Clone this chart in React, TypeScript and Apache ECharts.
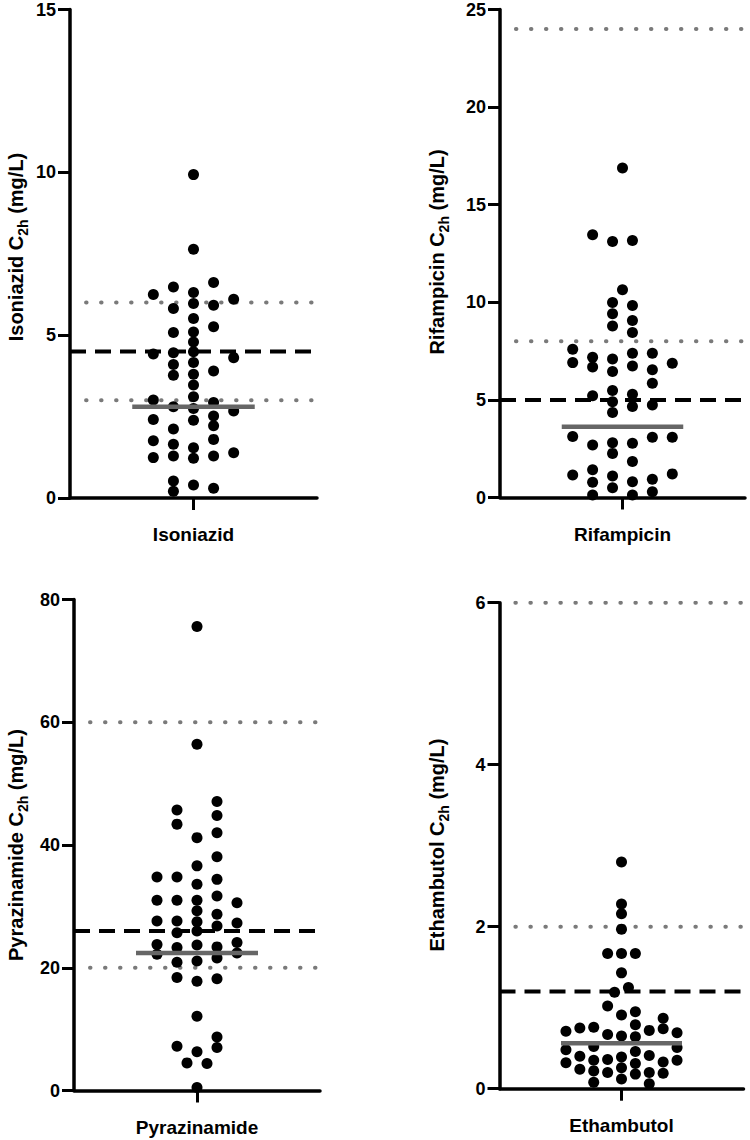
import React, { useEffect, useRef } from "react";
import * as echarts from "echarts";

const FONT = "'Liberation Sans', Arial, sans-serif";

const drugs = ["Isoniazid", "Rifampicin", "Pyrazinamide", "Ethambutol"];
const yMax = [15, 25, 80, 6];
const yStep = [5, 5, 20, 2];
const dashedRef = [4.5, 5, 26, 1.2];
const dottedRefs = [[3, 6], [8, 24], [20, 60], [2, 6]];
const medians = [2.8, 3.63, 22.4, 0.56];

// values (mg/L) and horizontal swarm offsets (in ~dot-radius units)
const isoniazidValues = [9.93, 7.64, 6.62, 6.48, 6.25, 6.31, 6.1, 5.97, 5.82, 5.92, 5.51, 5.26, 5.08, 5.1, 4.79, 4.49, 4.46, 4.42, 4.31, 4.16, 4.1, 3.9, 3.77, 3.8, 3.47, 3.11, 3.01, 2.93, 2.8, 2.75, 2.67, 2.52, 2.41, 2.39, 2.22, 2.12, 1.76, 1.8, 1.65, 1.54, 1.39, 1.24, 1.29, 1.22, 1.29, 0.52, 0.4, 0.3, 0.21];
const isoniazidOffsets = [0, 0, 2, -2, -4, 0, 4, 0, -2, 2, 0, 2, -2, 0, 0, 0, -2, -4, 4, 0, -2, 2, -2, 0, 0, 0, -4, 2, -2, 0, 4, 2, -4, 0, 2, -2, -4, 2, -2, 0, 4, -4, -2, 0, 2, -2, 0, 2, -2];

const rifampicinValues = [16.88, 13.46, 13.12, 13.17, 10.64, 9.99, 9.84, 9.41, 9.07, 8.79, 8.45, 7.6, 7.19, 7.1, 7.39, 7.39, 6.91, 6.88, 6.68, 6.74, 6.45, 6.54, 5.85, 5.48, 5.29, 5.21, 4.91, 4.66, 4.74, 4.35, 3.12, 3.09, 3.09, 2.69, 2.81, 2.78, 2.26, 1.84, 1.42, 1.15, 1.1, 1.21, 0.93, 0.78, 0.81, 0.5, 0.3, 0.13, 0.13];
const rifampicinOffsets = [0, -3, -1, 1, 0, -1, 1, -1, 1, -1, 1, -5, -3, -1, 1, 3, -5, 5, -3, 1, -1, 3, 3, -1, 1, -3, -1, 1, 3, -1, -5, 3, 5, -3, -1, 1, -1, 1, -3, -5, -1, 5, 3, -3, 1, -1, 3, -3, 1];

const pyrazinamideValues = [75.6, 56.4, 47.1, 45.7, 44.8, 43.4, 42.0, 41.2, 38.1, 36.6, 34.8, 34.8, 34.4, 33.6, 31.7, 31.0, 31.0, 31.0, 30.6, 29.3, 28.7, 27.6, 27.6, 27.5, 27.3, 26.8, 25.7, 26.0, 23.8, 23.7, 23.4, 24.1, 23.3, 22.2, 22.4, 21.6, 20.9, 21.1, 18.4, 18.2, 17.8, 12.1, 8.7, 7.2, 7.0, 6.3, 4.5, 4.4, 0.5];
const pyrazinamideOffsets = [0, 0, 2, -2, 2, -2, 2, 0, 2, 0, -4, -2, 2, 0, 2, -4, -2, 0, 4, 0, 2, -4, -2, 0, 4, 2, -2, 0, -4, 0, 2, 4, -2, -4, 4, 2, -2, 0, -2, 2, 0, 0, 2, -2, 2, 0, -1, 1, 0];

const ethambutolValues = [2.8, 2.28, 2.16, 1.97, 1.67, 1.67, 1.67, 1.43, 1.25, 1.19, 1.02, 0.91, 0.95, 0.87, 0.75, 0.76, 0.79, 0.71, 0.72, 0.74, 0.69, 0.67, 0.65, 0.64, 0.48, 0.52, 0.46, 0.51, 0.4, 0.36, 0.39, 0.41, 0.35, 0.32, 0.35, 0.31, 0.33, 0.24, 0.26, 0.22, 0.2, 0.18, 0.2, 0.19, 0.08, 0.12, 0.06];
const ethambutolOffsets = [0, 0, 0, 0, -1.4, 0, 1.4, 0, 0.7, -0.7, -1.4, 0, 1.4, 4.2, -4.2, -2.8, 1.4, -5.6, 2.8, 4.2, 5.6, -1.4, 0, 1.4, -5.6, -2.8, 1.4, 5.6, -4.2, -1.4, 0, 2.8, 5.6, -5.6, -2.8, 1.4, 4.2, -4.2, 0, -2.8, -1.4, 1.4, 2.8, 4.2, -2.8, 0, 2.8];

const allValues = [isoniazidValues, rifampicinValues, pyrazinamideValues, ethambutolValues];
const allOffsets = [isoniazidOffsets, rifampicinOffsets, pyrazinamideOffsets, ethambutolOffsets];

const grids = [
  { left: 70, top: 9.5, width: 247, height: 488.5 },
  { left: 500, top: 9.5, width: 245, height: 488 },
  { left: 74, top: 599.5, width: 246, height: 491 },
  { left: 499.5, top: 602.7, width: 244, height: 486 },
];
const nameCenters = [
  [16, 247],
  [437, 252],
  [16, 845],
  [437, 845],
];

const X_HALF = 12.3;

export default function App() {
  const ref = useRef<HTMLDivElement>(null);
  useEffect(() => {
    if (!ref.current) return;
    const chart = echarts.init(ref.current, undefined, { renderer: "svg" });

    const xAxis: any[] = [];
    const yAxis: any[] = [];
    const series: any[] = [];
    const graphic: any[] = [];

    drugs.forEach((d, i) => {
      xAxis[i] = {
        type: "category",
        gridIndex: i,
        data: [d],
        boundaryGap: true,
        axisLine: { show: true, onZero: false, lineStyle: { color: "#000", width: 3.5 } },
        axisTick: { show: true, alignWithLabel: true, length: 12, lineStyle: { color: "#000", width: 3 } },
        axisLabel: { color: "#000", fontSize: 19, fontWeight: "bold", fontFamily: FONT, margin: 27 },
        splitLine: { show: false },
        z: 5,
      };
      xAxis[4 + i] = {
        type: "value",
        gridIndex: i,
        min: -X_HALF,
        max: X_HALF,
        show: false,
        axisLine: { onZero: false },
        splitLine: { show: false },
      };
      yAxis[i] = {
        type: "value",
        gridIndex: i,
        position: "left",
        min: 0,
        max: yMax[i],
        interval: yStep[i],
        axisLine: { show: true, onZero: false, lineStyle: { color: "#000", width: 3.5 } },
        axisTick: { show: true, length: 12, lineStyle: { color: "#000", width: 3 } },
        axisLabel: { color: "#000", fontSize: 18, fontWeight: "bold", fontFamily: FONT, margin: 14 },
        splitLine: { show: false },
        z: 5,
      };

      dottedRefs[i].forEach((v) => {
        series.push({
          type: "line",
          xAxisIndex: 4 + i,
          yAxisIndex: i,
          data: [[-10.7, v], [12.1, v]],
          symbol: "none",
          silent: true,
          z: 1,
          lineStyle: { color: "#7a7a7a", width: 4, type: [0.5, 14.5], cap: "round" },
        });
      });
      series.push({
        type: "line",
        xAxisIndex: 4 + i,
        yAxisIndex: i,
        data: [[-X_HALF, dashedRef[i]], [X_HALF, dashedRef[i]]],
        symbol: "none",
        silent: true,
        z: 1,
        lineStyle: { color: "#000", width: 4, type: [16, 9] },
      });
      series.push({
        type: "scatter",
        xAxisIndex: 4 + i,
        yAxisIndex: i,
        data: allValues[i].map((v, k) => [allOffsets[i][k], v]),
        symbol: "circle",
        symbolSize: 11,
        itemStyle: { color: "#000", opacity: 1 },
        z: 2,
      });
      series.push({
        type: "line",
        xAxisIndex: 4 + i,
        yAxisIndex: i,
        data: [[-6.1, medians[i]], [6.1, medians[i]]],
        symbol: "none",
        silent: true,
        z: 3,
        lineStyle: { color: "#666", width: 4.5 },
      });

      graphic.push({
        type: "text",
        x: nameCenters[i][0],
        y: nameCenters[i][1],
        rotation: Math.PI / 2,
        style: {
          text: "{b|" + d + " C}{s|2h}{b| (mg/L)}",
          align: "center",
          verticalAlign: "middle",
          rich: {
            b: { fontSize: 20, fontWeight: "bold", fontFamily: FONT, fill: "#000", lineHeight: 28 },
            s: { fontSize: 14, fontWeight: "bold", fontFamily: FONT, fill: "#000", lineHeight: 18, verticalAlign: "bottom" },
          },
        },
      });
    });

    chart.setOption({
      animation: false,
      backgroundColor: "#fff",
      grid: grids.map((g) => ({ ...g, containLabel: false })),
      xAxis,
      yAxis,
      series,
      graphic,
    });
    return () => chart.dispose();
  }, []);
  return <div ref={ref} style={{ position: "absolute", left: 0, top: 0, width: 750, height: 1140 }} />;
}
